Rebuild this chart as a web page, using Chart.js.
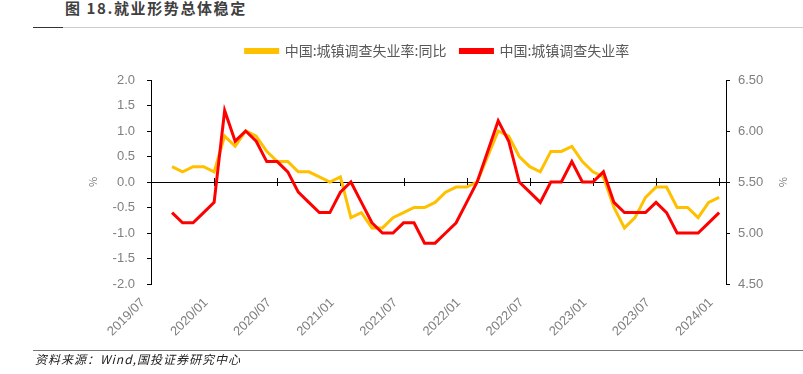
<!DOCTYPE html>
<html>
<head>
<meta charset="utf-8">
<script src="https://cdn.jsdelivr.net/npm/chart.js@4"></script>
<style>
    body { margin: 0; background: #fff; }
    #wrap { position: relative; width: 803px; height: 374px; overflow: hidden; }
    #chart { position: absolute; left: 0; top: 0; }
    .title { position: absolute; left: 65px; top: -3px; font: bold 15px "Noto Sans CJK SC", sans-serif; color: #404040; letter-spacing: 1.6px; }
    .rule1 { position: absolute; left: 33px; top: 27px; width: 30px; height: 1px; background: #333; }
    .rule2 { position: absolute; left: 63px; top: 27px; width: 740px; height: 1px; background: #ccc; }
    .rule3 { position: absolute; left: 33px; top: 350px; width: 770px; height: 1px; background: #777; }
    .source { position: absolute; left: 35px; top: 350px; font: italic 12px "Noto Sans CJK SC", sans-serif; color: #222; letter-spacing: 1px; }
</style>
</head>
<body>
<div id="wrap">
    <div class="title">图 18.就业形势总体稳定</div>
    <div class="rule1"></div>
    <div class="rule2"></div>
    <canvas id="chart" width="803" height="374"></canvas>
    <div class="rule3"></div>
    <div class="source">资料来源：Wind,国投证券研究中心</div>
</div>
<script>
// months from 2019/09 to 2024/01
const months = [
    '2019/09', '2019/10', '2019/11', '2019/12',
    '2020/01', '2020/02', '2020/03', '2020/04', '2020/05', '2020/06',
    '2020/07', '2020/08', '2020/09', '2020/10', '2020/11', '2020/12',
    '2021/01', '2021/02', '2021/03', '2021/04', '2021/05', '2021/06',
    '2021/07', '2021/08', '2021/09', '2021/10', '2021/11', '2021/12',
    '2022/01', '2022/02', '2022/03', '2022/04', '2022/05', '2022/06',
    '2022/07', '2022/08', '2022/09', '2022/10', '2022/11', '2022/12',
    '2023/01', '2023/02', '2023/03', '2023/04', '2023/05', '2023/06',
    '2023/07', '2023/08', '2023/09', '2023/10', '2023/11', '2023/12',
    '2024/01',
];

const yoyChange = [
    0.3, 0.2, 0.3, 0.3,
    0.2, 0.9, 0.7, 1.0, 0.9, 0.6,
    0.4, 0.4, 0.2, 0.2, 0.1, 0.0,
    0.1, -0.7, -0.6, -0.9, -0.9, -0.7,
    -0.6, -0.5, -0.5, -0.4, -0.2, -0.1,
    -0.1, 0.0, 0.5, 1.0, 0.9, 0.5,
    0.3, 0.2, 0.6, 0.6, 0.7, 0.4,
    0.2, 0.1, -0.5, -0.9, -0.7, -0.3,
    -0.1, -0.1, -0.5, -0.5, -0.7, -0.4,
    -0.3,
];

const unemploymentRate = [
    5.2, 5.1, 5.1, 5.2,
    5.3, 6.2, 5.9, 6.0, 5.9, 5.7,
    5.7, 5.6, 5.4, 5.3, 5.2, 5.2,
    5.4, 5.5, 5.3, 5.1, 5.0, 5.0,
    5.1, 5.1, 4.9, 4.9, 5.0, 5.1,
    5.3, 5.5, 5.8, 6.1, 5.9, 5.5,
    5.4, 5.3, 5.5, 5.5, 5.7, 5.5,
    5.5, 5.6, 5.3, 5.2, 5.2, 5.2,
    5.3, 5.2, 5.0, 5.0, 5.0, 5.1,
    5.2,
];

const xTickLabels = [
    '2019/07', '2020/01', '2020/07', '2021/01', '2021/07',
    '2022/01', '2022/07', '2023/01', '2023/07', '2024/01',
];

// month offset from 2019/07
function monthIndex(m) {
    const [y, mo] = m.split('/').map(Number);
    return (y - 2019) * 12 + (mo - 7);
}

const gray = '#7f7f7f';
const tickFont = { family: 'Liberation Sans, Arial, sans-serif', size: 13 };

const zeroTicks = {
    id: 'zeroTicks',
    afterLayout(chart) {
        // legend sits a bit right of centre and higher up in the original
        const lg = chart.legend;
        lg.left += 36;
        lg.right += 36;
        lg.top -= 12;
        lg.bottom -= 12;
    },
    beforeDatasetsDraw(chart) {
        const x = chart.scales.x, y = chart.scales.y;
        const y0 = y.getPixelForValue(0);
        const ctx = chart.ctx;
        ctx.save();
        ctx.strokeStyle = '#000';
        ctx.lineWidth = 1;
        ctx.beginPath();
        x.ticks.forEach(t => {
            const px = Math.round(x.getPixelForValue(t.value)) + 0.5;
            ctx.moveTo(px, y0 - 4);
            ctx.lineTo(px, y0 + 4);
        });
        ctx.stroke();
        ctx.restore();
    },
    afterDraw(chart) {
        const ctx = chart.ctx;
        ctx.save();
        ctx.fillStyle = gray;
        ctx.font = '11px "Noto Sans CJK SC", sans-serif';
        ctx.textAlign = 'center';
        ctx.textBaseline = 'middle';
        const yMid = chart.scales.y.getPixelForValue(0);
        [[93, -Math.PI / 2], [783, Math.PI / 2]].forEach(([px, rot]) => {
            ctx.save();
            ctx.translate(px, yMid);
            ctx.rotate(rot);
            ctx.fillText('%', 0, 0);
            ctx.restore();
        });
        ctx.restore();
    }
};

const lineData = {
    datasets: [{
        label: '中国:城镇调查失业率:同比',
        data: months.map((m, i) => ({ x: monthIndex(m), y: yoyChange[i] })),
        borderColor: '#FFC000',
        backgroundColor: '#FFC000',
        borderWidth: 3,
        pointRadius: 0,
        yAxisID: 'y',
        order: 1,
    },
    {
        label: '中国:城镇调查失业率',
        data: months.map((m, i) => ({ x: monthIndex(m), y: unemploymentRate[i] })),
        borderColor: '#FF0000',
        backgroundColor: '#FF0000',
        borderWidth: 3,
        pointRadius: 0,
        yAxisID: 'y1',
        order: 0,
    }]
};

const lineConfig = {
    type: 'line',
    data: lineData,
    plugins: [zeroTicks],
    options: {
        responsive: false,
        animation: false,
        layout: { padding: { top: 42, left: 0, right: 0, bottom: 0 } },
        plugins: {
            tooltip: { enabled: false },
            legend: {
                position: 'top',
                labels: {
                    boxWidth: 32,
                    boxHeight: 3,
                    padding: 14,
                    color: '#595959',
                    font: { family: '"Noto Sans CJK SC", sans-serif', size: 14 },
                    sort: (a, b) => a.datasetIndex - b.datasetIndex,
                },
            },
        },
        scales: {
            x: {
                type: 'linear',
                min: 0,
                max: 54.65,
                grid: { display: false },
                border: { display: false },
                afterFit: s => { s.height = 90; },
                ticks: {
                    stepSize: 6,
                    includeBounds: false,
                    autoSkip: false,
                    minRotation: 45,
                    maxRotation: 45,
                    labelOffset: -8,
                    color: gray,
                    font: tickFont,
                    callback: v => xTickLabels[v / 6],
                },
            },
            y: {
                position: 'left',
                min: -2,
                max: 2,
                afterFit: s => { s.width = 151; },
                border: { color: '#000', width: 1 },
                grid: {
                    color: c => c.tick && c.tick.value === 0 ? '#000' : 'transparent',
                    tickColor: '#000',
                    tickLength: 4,
                },
                ticks: {
                    stepSize: 0.5,
                    padding: 12,
                    color: gray,
                    font: tickFont,
                    callback: v => v.toFixed(1),
                },
            },
            y1: {
                position: 'right',
                min: 4.5,
                max: 6.5,
                afterFit: s => { s.width = 77; },
                border: { color: '#000', width: 1 },
                grid: {
                    drawOnChartArea: false,
                    tickColor: '#000',
                    tickLength: 4,
                },
                ticks: {
                    stepSize: 0.5,
                    padding: 8,
                    color: gray,
                    font: tickFont,
                    callback: v => v.toFixed(2),
                },
            },
        },
    },
};

const lineChart = new Chart(
    document.getElementById('chart'),
    lineConfig
);
</script>
</body>
</html>
